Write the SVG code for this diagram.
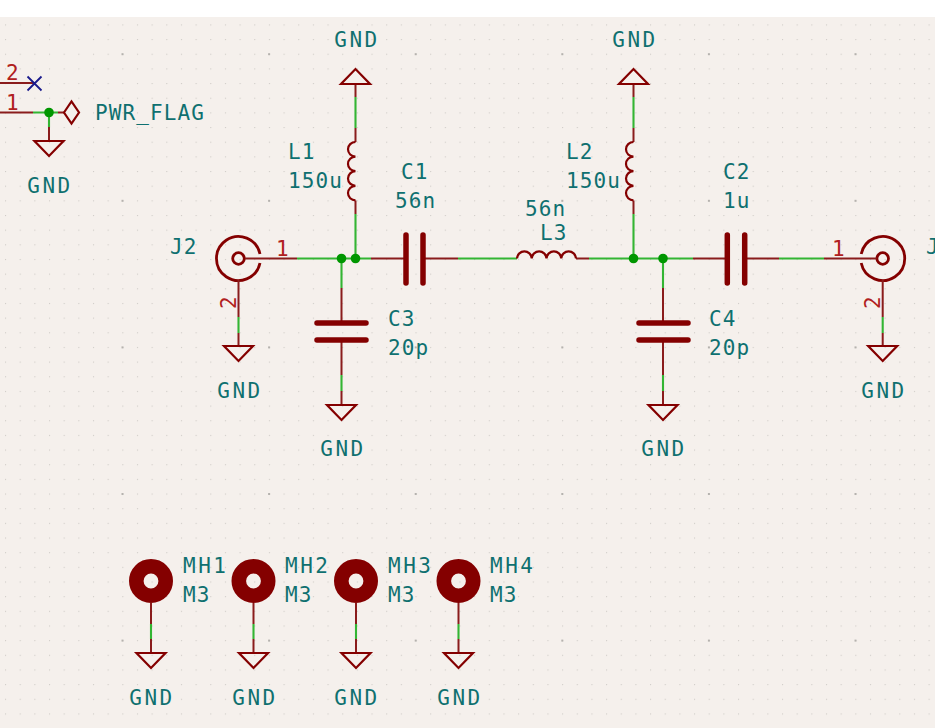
<svg xmlns="http://www.w3.org/2000/svg" width="935" height="728" viewBox="0 0 935 728">
<style>
text{font-family:"DejaVu Sans Mono","Liberation Mono",monospace;font-size:21px;letter-spacing:1.1px;fill:#0f7070}
.mid{text-anchor:middle}
.wide{letter-spacing:2.500px}
.pinnum{fill:#b02020;letter-spacing:0}
.pin{fill:none;stroke:#8a1c1c;stroke-width:2}
.wire{fill:none;stroke:#33b533;stroke-width:2.100}
.body{fill:none;stroke:#840000;stroke-width:2.200}
.plate{fill:none;stroke:#840000;stroke-width:5.500;stroke-linecap:round}
.coax{fill:none;stroke:#840000;stroke-width:2.800}
.junction{fill:#009600}
</style>
<defs>
<pattern id="minor" width="14.66" height="14.66" patternUnits="userSpaceOnUse" patternTransform="translate(5 24.4)"><rect x="-0.1" y="-0.1" width="1.2" height="1.2" fill="#cfcbc7"/></pattern>
<pattern id="major" width="146.6" height="146.6" patternUnits="userSpaceOnUse" patternTransform="translate(121.5 53.2)"><rect width="2" height="2" fill="#b5b2ae"/></pattern>
<g id="mh"><circle r="14.7" fill="none" stroke="#840000" stroke-width="14.6"/><path class="pin" d="M0 22V43"/><path class="wire" d="M0 43V58"/><path class="pin" d="M0 58V72"/><path class="body" d="M-14.500 72H14.500L0 87Z"/></g>
</defs>
<rect width="935" height="728" fill="#f5f0ec"/>
<rect y="17" width="935" height="711" fill="url(#minor)"/>
<rect y="17" width="935" height="711" fill="url(#major)"/>
<rect width="935" height="17" fill="#ffffff"/>

<g id="connectors">
<path class="wire" d="M33 112.500H58M49 112.500V127"/>
<path class="wire" d="M297 258.500H371M341.500 258.500V288M355.500 258.500V214M458 258.500H517M589 258.500H693M633.500 258.500V214M663 258.500V288M779 258.500H824"/>
<path class="wire" d="M355.500 97V128M633.500 97V128M341.500 375V391M663 375V391M238.500 317V333M882.700 317V333"/>
<circle class="junction" cx="49" cy="112.500" r="4.800"/>
<circle class="junction" cx="341.500" cy="258.500" r="4.800"/>
<circle class="junction" cx="355.500" cy="258.500" r="4.800"/>
<circle class="junction" cx="633.500" cy="258.500" r="4.800"/>
<circle class="junction" cx="663" cy="258.500" r="4.800"/>
</g>

<g id="J3">
<path class="pin" d="M0 83H34M0 112.500H33"/>
<path d="M27.500 76.500L41.500 90.500M41.500 76.500L27.500 90.500" fill="none" stroke="#1a1a8c" stroke-width="1.800"/>
<text class="pinnum" x="6" y="80">2</text>
<text class="pinnum" x="6" y="109.500">1</text>
</g>
<g id="PWR_FLAG">
<path class="pin" d="M58 112.500H64"/>
<path class="body" d="M64 112.500L71.500 101.500L79 112.500L71.500 123.500Z"/>
<text x="95" y="119.500">PWR_FLAG</text>
</g>
<g id="gnd-flag">
<path class="pin" d="M49 127V141"/>
<path class="body" d="M34.500 141H63.500L49 156Z"/>
<text class="mid wide" x="50" y="192.500">GND</text>
</g>

<g id="J2">
<path class="coax" d="M260 254A22 22 0 1 0 260 263"/>
<circle class="coax" cx="238.500" cy="258.500" r="5.800"/>
<path class="pin" d="M245 258.500H297M238.500 280V317M238.500 333V346"/>
<path class="body" d="M224 346H253L238.500 361Z"/>
<text class="pinnum" x="276" y="256">1</text>
<text class="pinnum" transform="translate(235.500 309) rotate(-90)">2</text>
<text x="170" y="253.500">J2</text>
<text class="mid wide" x="240" y="397.500">GND</text>
</g>

<g id="L1">
<path class="pin" d="M355.500 84V97M355.500 128V142M355.500 200.500V214"/>
<path class="body" d="M355.500 142a7.500 7.300 0 0 0 0 14.600a7.500 7.300 0 0 0 0 14.600a7.500 7.300 0 0 0 0 14.600a7.500 7.300 0 0 0 0 14.600"/>
<path class="body" d="M341 84H370L355.500 69Z"/>
<text class="mid wide" x="357" y="46.500">GND</text>
<text x="288" y="158.500">L1</text>
<text x="288" y="187.500">150u</text>
</g>

<g id="C1">
<path class="pin" d="M371 258.500H406M423 258.500H458"/>
<path class="plate" d="M406 235V283M423 235V283"/>
<text x="401" y="178.500">C1</text>
<text x="395" y="207.500">56n</text>
</g>

<g id="C3">
<path class="pin" d="M341.500 288V323M341.500 340V375M341.500 391V405"/>
<path class="plate" d="M317 323H366M317 340H366"/>
<path class="body" d="M327 405H356L341.500 420Z"/>
<text x="388" y="325.500">C3</text>
<text x="388" y="354.500">20p</text>
<text class="mid wide" x="343" y="455.500">GND</text>
</g>

<g id="L3">
<path class="pin" d="M576 258.500H589"/>
<path class="body" d="M517 258.500a7.400 7.800 0 0 1 14.750 0a7.400 7.800 0 0 1 14.750 0a7.400 7.800 0 0 1 14.750 0a7.400 7.800 0 0 1 14.750 0"/>
<text x="525" y="215.500">56n</text>
<text x="540" y="239.500">L3</text>
</g>

<g id="L2">
<path class="pin" d="M633.500 84V97M633.500 128V142M633.500 200.500V214"/>
<path class="body" d="M633.500 142a7.500 7.300 0 0 0 0 14.600a7.500 7.300 0 0 0 0 14.600a7.500 7.300 0 0 0 0 14.600a7.500 7.300 0 0 0 0 14.600"/>
<path class="body" d="M619 84H648L633.500 69Z"/>
<text class="mid wide" x="635" y="46.500">GND</text>
<text x="566" y="158.500">L2</text>
<text x="566" y="187.500">150u</text>
</g>

<g id="C4">
<path class="pin" d="M663 288V323M663 340V375M663 391V405"/>
<path class="plate" d="M639 323H688M639 340H688"/>
<path class="body" d="M648.500 405H677.500L663 420Z"/>
<text x="709" y="325.500">C4</text>
<text x="709" y="354.500">20p</text>
<text class="mid wide" x="664" y="455.500">GND</text>
</g>

<g id="C2">
<path class="pin" d="M693 258.500H727.300M744.700 258.500H779"/>
<path class="plate" d="M727.300 235V283M744.700 235V283"/>
<text x="723" y="178.500">C2</text>
<text x="723" y="207.500">1u</text>
</g>

<g id="J1">
<path class="coax" d="M861.200 254A22 22 0 1 1 861.200 263"/>
<circle class="coax" cx="882.700" cy="258.500" r="5.800"/>
<path class="pin" d="M824 258.500H876.500M882.700 280V317M882.700 333V346"/>
<path class="body" d="M868.200 346H897.200L882.700 361Z"/>
<text class="pinnum" x="832" y="256">1</text>
<text class="pinnum" transform="translate(879.500 309) rotate(-90)">2</text>
<text x="926" y="253.500">J</text>
<text class="mid wide" x="884" y="397.500">GND</text>
</g>

<g id="MH1"><use href="#mh" x="151" y="581"/><text class="wide" x="183" y="572.500">MH1</text><text x="183" y="601.500">M3</text><text class="mid wide" x="152" y="704.500">GND</text></g>
<g id="MH2"><use href="#mh" x="253.500" y="581"/><text class="wide" x="285" y="572.500">MH2</text><text x="285" y="601.500">M3</text><text class="mid wide" x="255" y="704.500">GND</text></g>
<g id="MH3"><use href="#mh" x="356" y="581"/><text class="wide" x="388" y="572.500">MH3</text><text x="388" y="601.500">M3</text><text class="mid wide" x="357" y="704.500">GND</text></g>
<g id="MH4"><use href="#mh" x="458.500" y="581"/><text class="wide" x="490" y="572.500">MH4</text><text x="490" y="601.500">M3</text><text class="mid wide" x="460" y="704.500">GND</text></g>
</svg>
